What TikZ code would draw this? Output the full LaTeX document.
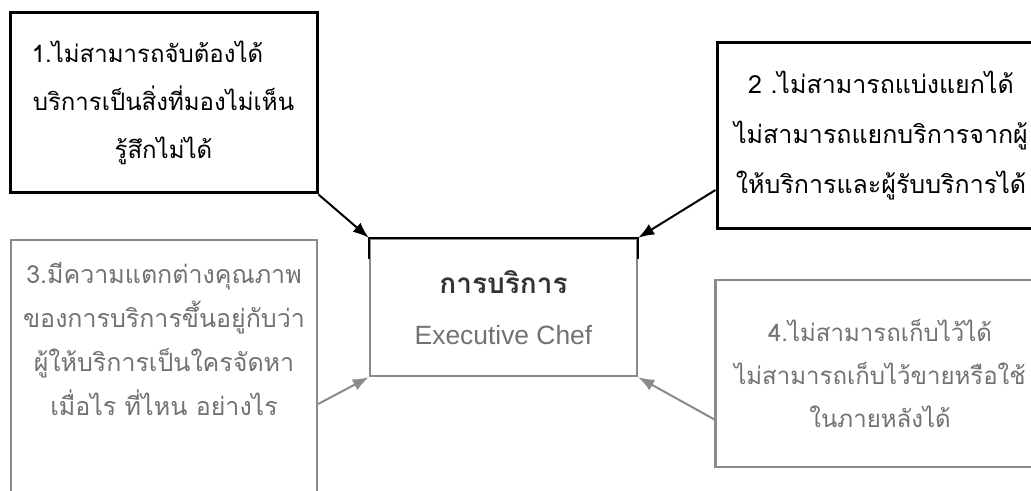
\documentclass[tikz,border=0pt]{standalone}
\usepackage{fontspec}
\setmainfont{Liberation Sans}
\newfontfamily\thaifont[Script=Thai]{Loma}
\usetikzlibrary{arrows.meta,calc}

\definecolor{fadeline}{HTML}{8A8A8A}
\definecolor{fadetext}{HTML}{727272}

\begin{document}
\begin{tikzpicture}[
  x=0.5pt, y=-0.5pt,
  >=Latex,
  lines/.style={execute at begin node={\setlength{\baselineskip}{#1}}},
  darkbox/.style={draw=black, line width=1.5pt, align=center, inner sep=0pt,
    font=\thaifont\fontsize{12}{24}\selectfont, lines=24pt},
  greybox/.style={draw=fadeline, line width=1.1pt, align=center, inner sep=0pt,
    text=fadetext, font=\thaifont\fontsize{12}{22}\selectfont, lines=22pt},
  centrebox/.style={draw=fadeline, line width=1.2pt, align=center, inner sep=0pt,
    font=\fontsize{13.2}{25.5}\selectfont, lines=25.5pt},
  arrow/.style={->, line width=1pt, black, >={Latex[length=8pt,width=6pt]}},
  greyarrow/.style={arrow, fadeline}
]
\clip (0,0) rectangle (1031,491);
\fill[white] (0,0) rectangle (1031,491);

\node[darkbox, minimum width=153.5pt, minimum height=90pt] (b1) at (163.5,103)
  {1.ไม่สามารถจับต้องได้\hspace*{16pt}\\บริการเป็นสิ่งที่มองไม่เห็น\\รู้สึกไม่ได้};
\node[darkbox, minimum width=164pt, minimum height=93pt,
  font=\thaifont\fontsize{12.5}{25}\selectfont, lines=25pt] (b2) at (881,136)
  {2 .ไม่สามารถแบ่งแยกได้\\ไม่สามารถแยกบริการจากผู้\\ให้บริการและผู้รับบริการได้};
\node[greybox, minimum width=153pt, minimum height=164pt] (b3) at (164,404) {};
\node[text=fadetext, align=center, font=\thaifont\fontsize{12.5}{22}\selectfont,
  lines=22pt] (t3) at (164,339)
  {3.มีความแตกต่างคุณภาพ\\ของการบริการขึ้นอยู่กับว่า\\ผู้ให้บริการเป็นใครจัดหา\\เมื่อไร ที่ไหน อย่างไร};
\node[greybox, minimum width=164.5pt, minimum height=93.5pt,
  font=\thaifont\fontsize{12}{21.5}\selectfont, lines=21.5pt] (b4) at (880,373.5)
  {4.ไม่สามารถเก็บไว้ได้\\ไม่สามารถเก็บไว้ขายหรือใช้\\ในภายหลังได้};

\node[centrebox, minimum width=133.5pt, minimum height=68.5pt] (c) at (503.5,307.5)
  {{\thaifont\bfseries\fontsize{14}{25.5}\selectfont\color{black!80}การบริการ}\\
   {\color{fadetext}Executive Chef}};
% darker upper edge of the centre box
\draw[black, line width=1.2pt] ($(c.north west)+(0,21)$) -- (c.north west)
  -- (c.north east) -- ($(c.north east)+(0,21)$);

\draw[arrow] (b1.south east) -- (c.north west);
\draw[arrow] ($(b2.west)+(0,54)$) -- (c.north east);
\draw[greyarrow] (b3.east) -- (c.south west);
\draw[greyarrow] ($(b4.west)+(0,46)$) -- (c.south east);
\end{tikzpicture}
\end{document}
